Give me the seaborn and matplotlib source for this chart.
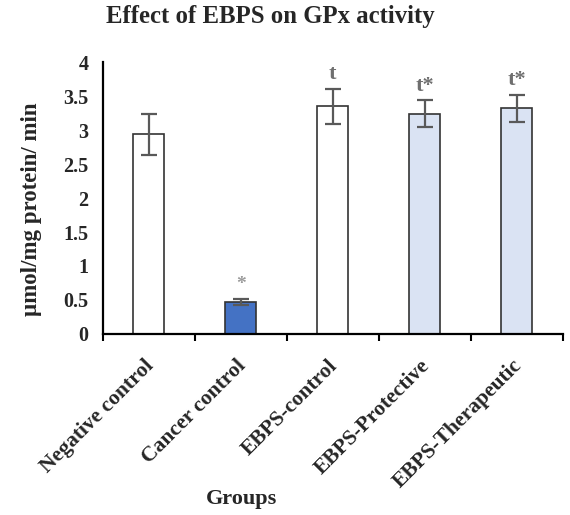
import matplotlib
matplotlib.use("Agg")
import matplotlib.pyplot as plt
import matplotlib.transforms as mtransforms
import seaborn as sns
import numpy as np
import pandas as pd

groups = ["Negative control", "Cancer control", "EBPS-control", "EBPS-Protective", "EBPS-Therapeutic"]
means = [2.94, 0.47, 3.35, 3.24, 3.32]
errors = [0.30, 0.05, 0.26, 0.20, 0.20]
marks = ["", "*", "t", "t*", "t*"]
bar_colors = ["#FFFFFF", "#4472C4", "#FFFFFF", "#DAE3F3", "#DAE3F3"]
yticks = [0, 0.5, 1, 1.5, 2, 2.5, 3, 3.5, 4]
ytick_labels = ["0", "0.5", "1", "1.5", "2", "2.5", "3", "3.5", "4"]

sns.set_theme(style="white")
plt.rcParams["font.family"] = ["Liberation Serif", "DejaVu Serif"]
plt.rcParams["font.weight"] = "bold"

df = pd.DataFrame({"Group": groups, "Value": means})

fig = plt.figure(figsize=(5.7, 5.15), dpi=100)
ax = fig.add_axes([0.180, 0.3515, 0.807, 0.528])

sns.barplot(data=df, x="Group", y="Value", hue="Group", palette=bar_colors,
            saturation=1, width=0.33, edgecolor="#333333", linewidth=1.2,
            legend=False, ax=ax, errorbar=None)

xpos = np.arange(len(groups))
ax.errorbar(xpos, means, yerr=errors, fmt="none", ecolor="#595959",
            elinewidth=1.6, capsize=5.5, capthick=1.6, zorder=5)

for i, (m, e, t) in enumerate(zip(means, errors, marks)):
    if t:
        col = "#9a9a9a" if t == "*" else "#6f6f6f"
        ax.text(i, m + e + 0.14, t, ha="center", va="baseline",
                fontsize=16 if t != "*" else 14, fontweight="bold", color=col)

ax.set_xlim(-0.5, len(groups) - 0.5)
ax.set_ylim(0, 4)
ax.set_yticks(yticks)
ax.set_yticklabels(ytick_labels, fontsize=14.5, fontweight="bold")
ax.tick_params(axis="y", length=0, pad=10)

ax.set_xticks(xpos)
ax.set_xticklabels(groups, rotation=45, ha="right", rotation_mode="anchor",
                   fontsize=15.5, fontweight="bold")
ax.set_xticks(np.arange(-0.5, len(groups), 1.0), minor=True)
ax.tick_params(axis="x", which="major", length=0, pad=10)
ax.tick_params(axis="x", which="minor", length=5, width=1.5, color="black",
               direction="out", bottom=True)
offset = mtransforms.ScaledTranslation(-5 / 100, -8 / 100, fig.dpi_scale_trans)
for lab in ax.get_xticklabels():
    lab.set_transform(lab.get_transform() + offset)

for s in ["top", "right"]:
    ax.spines[s].set_visible(False)
for s in ["left", "bottom"]:
    ax.spines[s].set_color("black")
    ax.spines[s].set_linewidth(1.6)

ax.set_xlabel("Groups", fontsize=16, fontweight="bold")
ax.xaxis.set_label_coords(0.303, -0.57)
ax.set_ylabel("µmol/mg protein/ min", fontsize=16.5, fontweight="bold")
ax.yaxis.set_label_coords(-0.132, 0.46)

fig.text(0.474, 0.967, "Effect of EBPS on GPx activity", ha="center", va="center",
         fontsize=17.8, fontweight="bold")

fig.savefig("out.png", dpi=100)
